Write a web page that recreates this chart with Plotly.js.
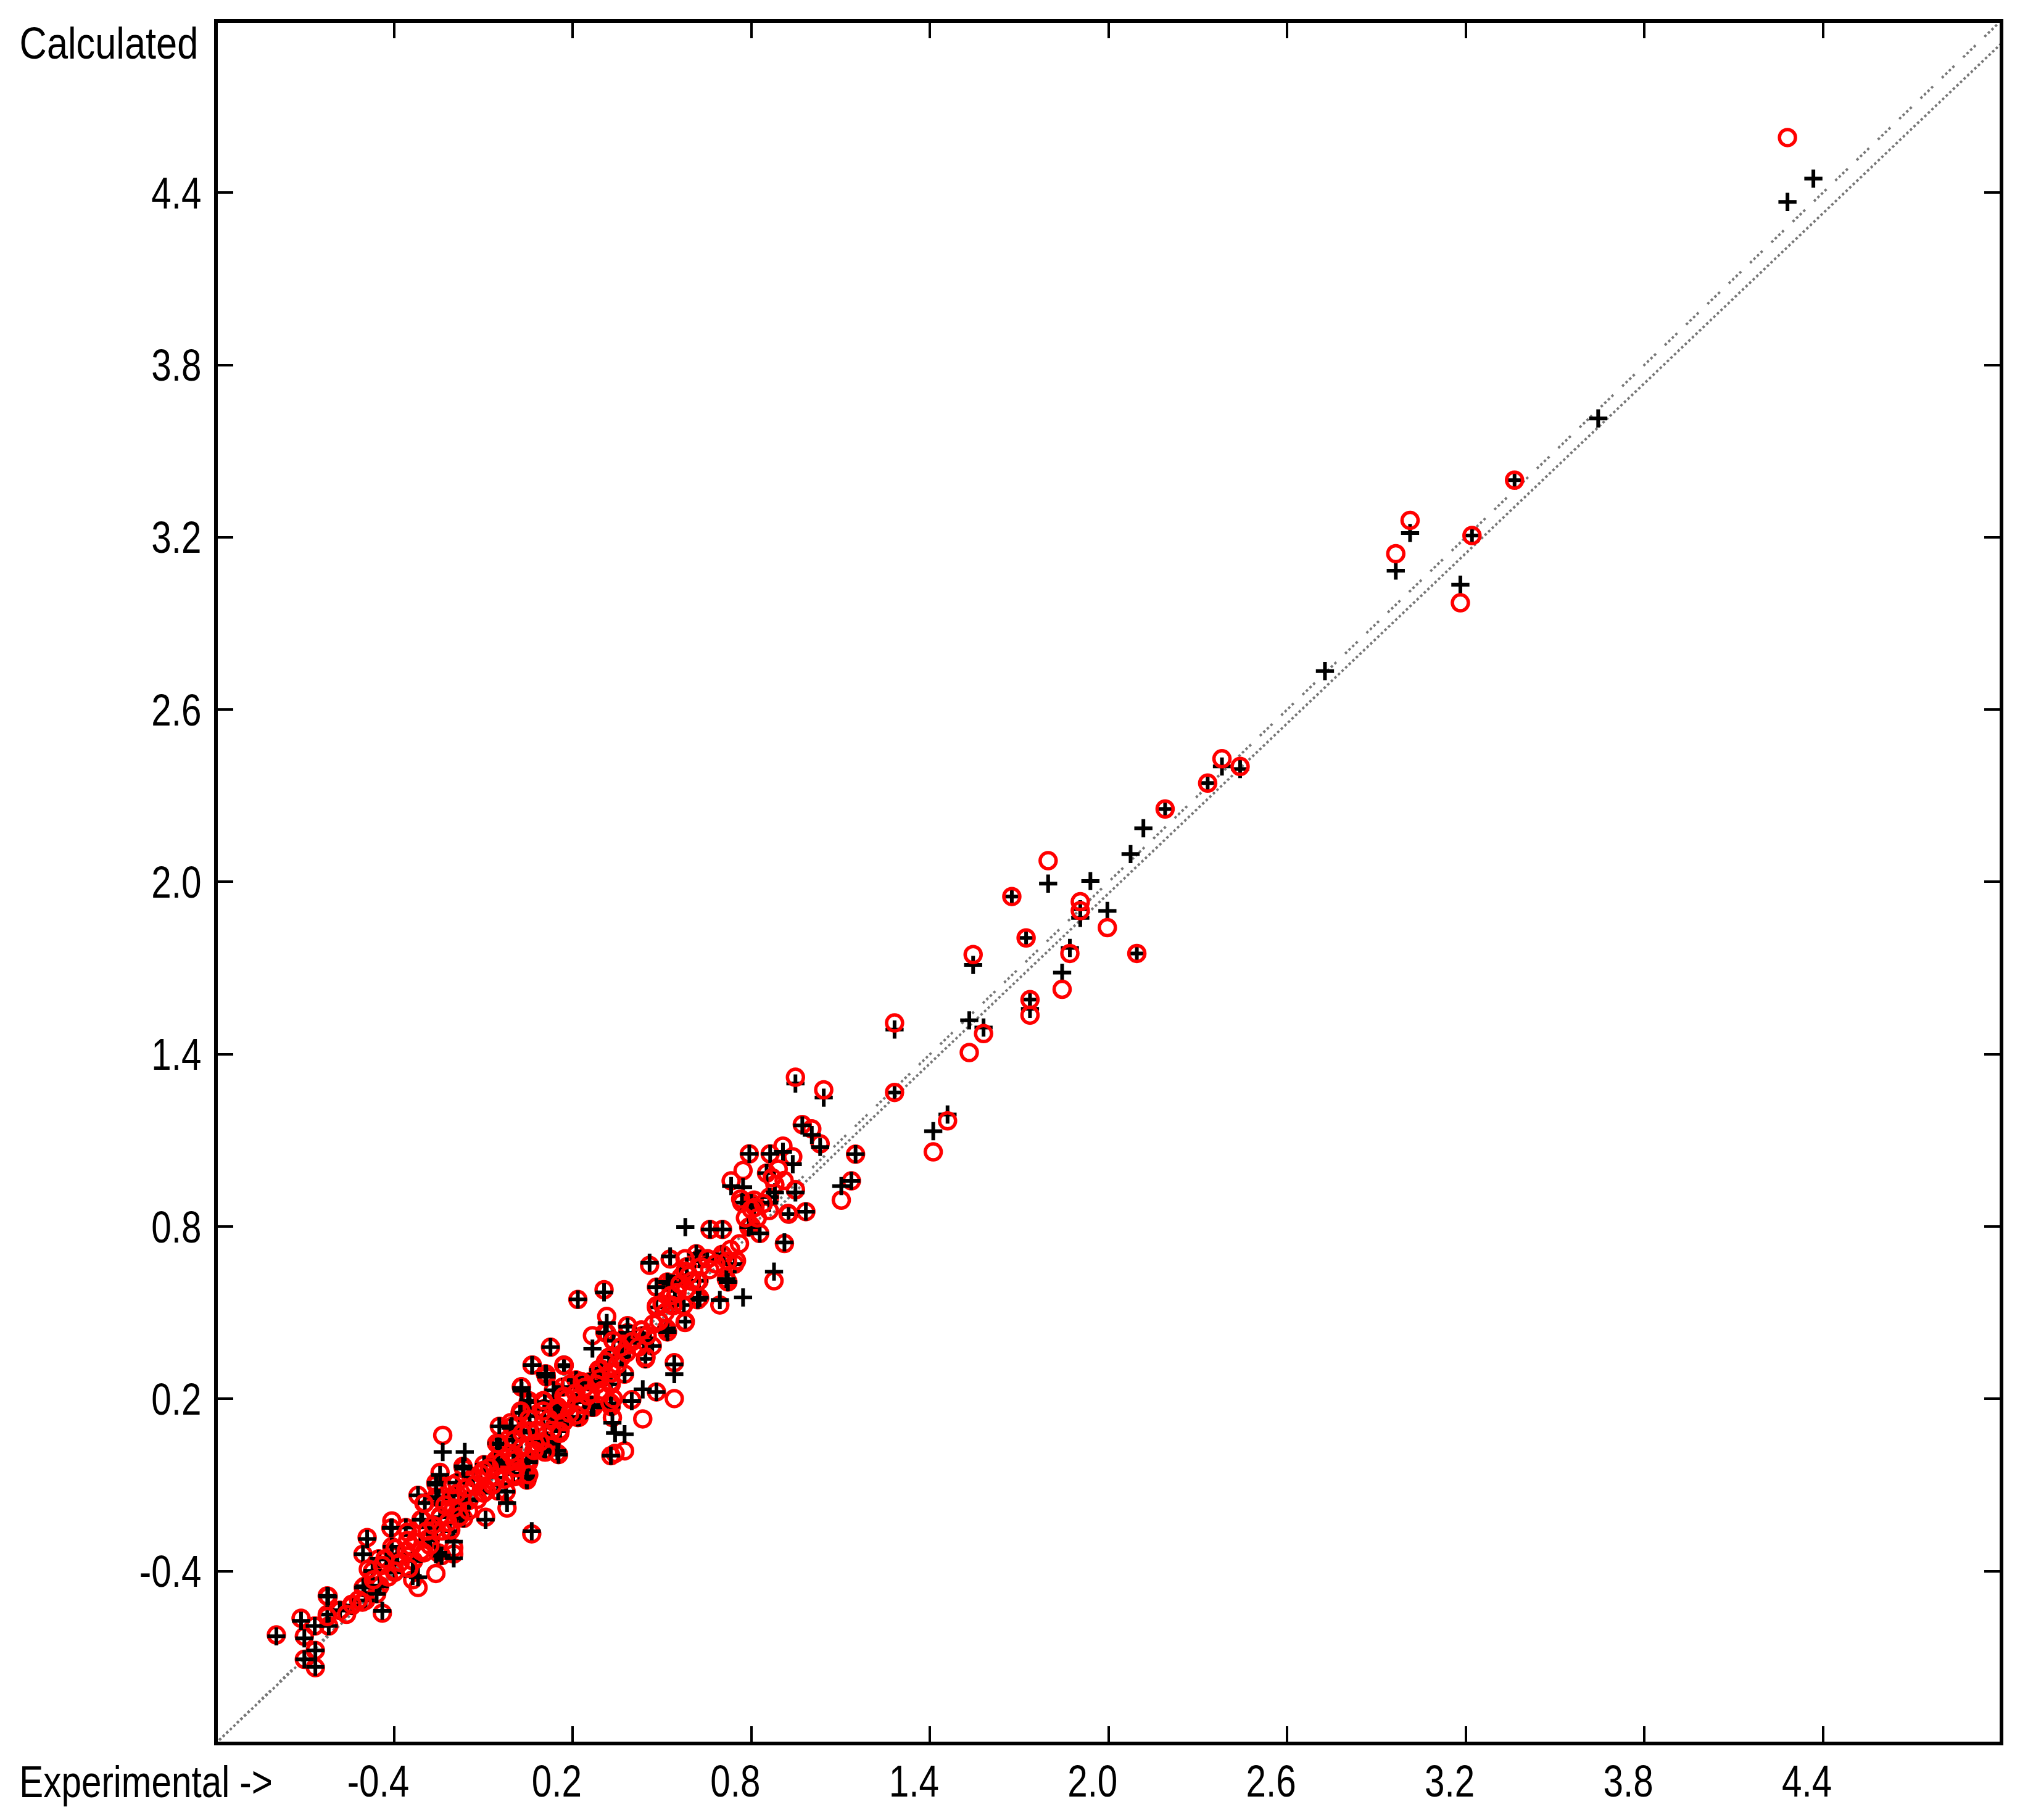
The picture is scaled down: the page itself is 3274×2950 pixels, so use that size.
<!DOCTYPE html>
<html><head><meta charset="utf-8">
<script src="https://cdn.plot.ly/plotly-3.0.1.min.js"></script>
<style>html,body{margin:0;padding:0;background:#fff}</style></head>
<body><div id="chart" style="width:3274px;height:2950px"></div>
<script>
const experimental = [4.281,4.368,3.645,3.364,3.221,3.013,2.965,3.182,2.727,2.442,2.381,2.333,2.19,2.117,2.074,1.797,1.675,1.939,1.905,1.905,1.996,1.723,2.095,1.87,1.844,1.545,1.736,1.736,1.532,1.58,1.281,1.281,1.459,1.411,0.948,1.043,
0.971,1.003,1.031,1.15,1.136,1.102,0.793,0.863,0.906,0.939,0.772,0.732,0.851,0.879,0.948,0.768,0.809,0.86,0.925,0.983,0.791,0.828,0.911,0.876,0.578,0.661,0.703,0.744,0.707,0.652,0.615,0.527,0.458,0.583,0.721,0.772,0.694,0.481,0.518,0.564,0.624,0.62,0.481,0.536,0.573,0.518,0.578,0.305,0.217,0.314,0.266,0.384,0.434,0.314,0.337,0.388,0.439,0.323,0.365,0.444,0.467,0.296,0.541,0.541,0.435,0.481,0.398,0.328,0.328,0.374,0.342,0.374,0.333,0.263,0.222,0.254,0.291,0.171,0.125,0.063,0.111,0.166,0.028,0.106,0.055,0.143,0.023,-0.009,0.055,0.157,0.102,0.217,0.268,0.148,0.102,0.046,0,-0.056,-0.051,0,0,0.046,0.111,0.213,
-0.796,-0.713,-0.667,-0.702,-0.665,-0.702,-0.665,-0.62,-0.622,-0.625,-0.582,-0.542,-0.5,-0.496,-0.449,-0.44,-0.505,-0.491,-0.472,-0.426,-0.408,-0.399,-0.389,-0.338,-0.338,-0.32,-0.26,-0.287,-0.361,-0.408,-0.2,-0.2,-0.241,-0.213,-0.306,-0.246,-0.297,-0.25,-0.19,-0.167,-0.26,-0.2,-0.149,-0.093,-0.021,0.062,-0.024,-0.056,0.046,0.004,0.05,-0.056,-0.098,-0.102,-0.135,-0.167,-0.19,-0.163,-0.237,-0.246,-0.32,-0.047,0,0.055,-0.047,0.05,0.027,0.106,0.148,0.11,0.064,0.221,0.157,0.152,0.106,0.328,0.263,0.328,0.17,0.286,0.221,0.1,0.157,0.055,-0.005];
const calcPlus = [4.368,4.449,3.614,3.399,3.206,3.215,3.084,3.035,2.734,2.393,2.402,2.344,2.254,2.187,2.097,1.994,1.949,2.003,1.905,1.875,1.899,1.805,1.751,1.77,1.684,1.711,1.59,1.558,1.518,1.493,1.486,1.267,1.19,1.132,1.298,1.249,
1.152,1.119,1.077,1.052,0.959,0.941,1.053,1.053,1.06,1.017,0.937,0.941,0.986,0.919,0.919,0.883,0.87,0.883,0.843,0.852,0.798,0.776,0.745,0.643,0.798,0.79,0.79,0.669,0.696,0.687,0.705,0.696,0.674,0.66,0.607,0.553,0.544,0.589,0.607,0.625,0.611,0.545,0.518,0.527,0.527,0.433,0.469,0.571,0.546,0.464,0.375,0.451,0.42,0.429,0.402,0.402,0.402,0.344,0.348,0.339,0.384,0.304,0.286,0.32,0.233,0.224,0.192,0.184,0.25,0.286,0.081,0.077,0.117,0.179,0.259,0.259,0.295,0.313,0.38,0.317,0.277,0.241,0.228,0.188,0.188,0.161,0.152,0.099,0.09,0.09,0.135,0.135,0.17,0.019,0.019,-0.017,-0.017,0.045,-0.026,0.036,-0.061,-0.07,0.054,0.188,
-0.627,-0.573,-0.591,-0.634,-0.676,-0.707,-0.733,-0.591,-0.488,-0.551,-0.537,-0.52,-0.453,-0.502,-0.453,-0.538,-0.341,-0.288,-0.399,-0.359,-0.315,-0.404,-0.346,-0.364,-0.417,-0.421,-0.341,-0.288,-0.248,-0.248,-0.355,-0.297,-0.346,-0.261,-0.221,-0.212,-0.163,-0.145,-0.199,-0.216,-0.092,-0.136,-0.154,-0.221,-0.163,-0.261,-0.123,-0.074,-0.083,-0.02,-0.02,-0.02,-0.029,-0.127,-0.074,-0.043,-0.092,0.015,0.015,-0.065,-0.136,0.042,0.055,0.082,0.104,0.189,0.238,0.189,0.167,0.287,0.318,0.136,0.113,0.006,0.015,0.002,0.171,0.176,0.318,0.3,0.256,0.05,0.087,0.14,0.104];
const calcCircle = [4.592,null,null,3.399,3.206,3.259,3.143,2.972,null,2.402,2.429,2.344,2.254,null,null,2.074,1.949,null,1.931,1.9,1.841,1.805,1.751,1.751,1.626,1.747,1.59,1.536,1.406,1.472,1.509,1.267,1.168,1.06,1.32,1.276,
1.155,1.14,1.088,1.052,0.959,0.892,1.053,1.053,1.08,1.043,0.995,0.959,0.986,0.946,0.928,0.883,0.892,0.856,0.843,0.852,0.798,0.776,0.741,0.611,null,0.79,0.79,0.669,0.696,0.687,0.705,0.687,0.665,0.66,0.607,null,0.527,0.589,0.607,0.625,0.611,0.545,0.518,0.527,0.527,0.433,0.469,0.58,0.546,0.487,0.42,0.455,0.42,0.429,0.402,0.402,0.402,0.344,0.348,0.339,0.384,0.304,0.326,0.201,0.13,0.224,0.197,0.184,0.25,0.286,0.01,0.019,0.135,0.179,0.259,0.259,0.295,0.317,0.38,0.317,0.277,0.241,0.241,0.188,0.188,0.161,0.152,0.117,0.09,0.09,0.135,0.135,0.17,0.01,0.019,-0.017,-0.017,0.045,-0.026,0.036,-0.061,-0.07,0.054,0.188,
-0.622,-0.564,-0.591,-0.627,-0.676,-0.707,-0.736,-0.591,-0.488,-0.551,-0.537,-0.52,-0.453,-0.502,-0.453,-0.546,-0.341,-0.283,-0.399,-0.359,-0.315,-0.404,-0.346,-0.364,-0.43,-0.457,-0.408,-0.288,-0.248,-0.225,-0.34,-0.319,-0.346,-0.261,-0.221,-0.212,-0.163,-0.145,-0.199,-0.216,-0.092,-0.136,-0.154,-0.212,-0.18,-0.27,-0.123,-0.074,-0.083,-0.02,-0.02,-0.02,-0.029,-0.127,-0.074,-0.043,-0.092,null,0.073,-0.056,-0.136,0.042,0.055,0.082,0.104,0.189,0.242,0.189,0.167,0.287,0.318,0.136,0.113,0.006,0.015,0.002,0.171,0.176,0.318,0.3,0.256,0.05,0.087,0.14,0.104];
const bandX = [-0.625,-0.583,-0.504,-0.449,-0.459,-0.473,-0.39,-0.452,-0.335,-0.279,-0.252,-0.411,-0.31,-0.259,-0.176,-0.259,-0.148,-0.259,-0.051,0.045,-0.058,-0.169,0.052,0.004,0.142,0.108,0.218,0.104,0.232,0.322,0.266,0.211,0.27,0.052,0.108,0.308,0.799,0.861,0.799,0.626,0.702,0.716,0.529,0.543,0.626,0.515,0.384,0.384,0.363,0.287,0.267,0.135,0.149,0.267,0.025,0.156,0.108,-0.044,0.128,0.052,-0.051,0.329];
const bandY = [-0.486,-0.536,-0.457,-0.45,-0.479,-0.4,-0.343,-0.357,-0.364,-0.293,-0.336,-0.25,-0.221,-0.25,-0.2,-0.142,-0.15,-0.099,-0.121,-0.078,-0.013,-0.035,-0.013,0.058,0.115,0.022,0.137,0.166,0.259,0.345,0.259,0.266,0.173,0.194,0.287,0.431,0.882,0.903,0.803,0.688,0.703,0.617,0.602,0.552,0.552,0.445,0.43,0.395,0.345,0.302,0.259,0.23,0.173,0.173,0.151,0.13,0.072,0.044,0.044,-0.021,-0.014,0.173];
const redOnlyX = [-0.625,-0.542,-0.507,-0.487,-0.397,-0.431,-0.397,-0.342,-0.3,-0.355,-0.355,-0.245,-0.21,-0.21,-0.3,-0.203,-0.1,-0.058,0.004,-0.1,0.004,-0.051,0.052,0.156,0.073,0.149,0.17,0.294,0.335,0.329,0.17,0.325,0.025,0.812,0.764,0.923,0.577,0.653,0.75,0.619,0.577,0.481,0.536,0.571,0.577,0.432,0.336,0.322,0.446,0.329,0.232,0.191,0.101,0.211,0.101,0.052,0.052,0.156,0.004,0.073,0.004,0.108,0.004,0.052,0.336,
-0.56,-0.52,-0.47,-0.44,-0.42,-0.38,-0.36,-0.35,-0.33,-0.31,-0.29,-0.28,-0.27,-0.24,-0.23,-0.22,-0.2,-0.19,-0.18,-0.16,-0.15,-0.13,-0.12,-0.11,-0.09,-0.08,-0.07,-0.04,-0.03,-0.01,0.01,0.03,0.03,0.07,0.08,0.09,0.12,0.13,0.15,0.17,0.18,0.19,0.21,0.23,0.24,0.25,0.26,0.28,0.29,0.3,0.31,0.33,0.35,0.36,0.38,0.4,0.42,0.43,0.45,0.47,0.49,0.5,0.51,0.53,0.55,0.56,0.58,0.59,0.6,0.63,0.66,0.68,0.72,0.73,0.76,0.78,0.8,0.82,0.84,0.87,0.89,0.91];
const redOnlyY = [-0.558,-0.515,-0.508,-0.393,-0.4,-0.357,-0.321,-0.314,-0.336,-0.264,-0.293,-0.207,-0.257,-0.142,-0.164,-0.099,-0.128,-0.071,-0.071,-0.049,-0.013,0.044,0.087,0.08,0.044,0.166,0.209,0.302,0.402,0.251,0.316,0.187,0.158,0.867,0.896,0.846,0.688,0.688,0.681,0.609,0.645,0.524,0.524,0.524,0.466,0.438,0.402,0.345,0.345,0.259,0.259,0.251,0.194,0.144,0.158,0.13,0.087,0.087,0.058,0.044,0.001,0.015,-0.064,-0.064,0.201,
-0.55,-0.5,-0.43,-0.38,-0.42,-0.37,-0.33,-0.39,-0.3,-0.33,-0.26,-0.31,-0.24,-0.26,-0.17,-0.23,-0.18,-0.13,-0.21,-0.11,-0.19,-0.1,-0.15,-0.06,-0.12,-0.04,-0.1,-0.02,-0.08,0.01,-0.04,0.03,0.08,0.02,0.09,0.05,0.13,0.09,0.16,0.12,0.2,0.15,0.22,0.18,0.24,0.21,0.22,0.25,0.27,0.23,0.33,0.29,0.32,0.38,0.36,0.4,0.38,0.44,0.42,0.46,0.47,0.53,0.5,0.56,0.57,0.6,0.58,0.63,0.61,0.66,0.65,0.67,0.68,0.72,0.74,0.83,0.86,0.83,0.88,0.97,1,0.96];
const fitX = [-1, 5];
const fitY = [-1, 4.92];
const identityX = [-1, 5];
const identityY = [-1, 5];
const tickValues = [-0.4,0.2,0.8,1.4,2.0,2.6,3.2,3.8,4.4];
const tickLabels = ['-0.4','0.2','0.8','1.4','2.0','2.6','3.2','3.8','4.4'];
const font = {family:'"Liberation Sans",Arial,sans-serif', size:73, color:'#000'};
const axisBase = {ticks:'inside', tickvals:tickValues, ticktext:tickLabels, ticklen:25, tickwidth:4,
  tickcolor:'#000', showline:true, linecolor:'#000', linewidth:6, mirror:'ticks', showgrid:false, zeroline:false, tickfont:font, tickangle:0, automargin:false};
const sparseCount = 36;
const redMarker = {symbol:'circle-open',size:26,color:'#ff0000',line:{color:'#ff0000',width:5.5}};
Plotly.newPlot('chart',[
 {x:fitX,y:fitY,mode:'lines',line:{color:'#777',width:4,dash:'4px,4px'},showlegend:false,hoverinfo:'skip'},
 {x:identityX,y:identityY,mode:'lines',line:{color:'#777',width:4,dash:'4px,4px,4px,4px,4px,4px,4px,20px'},showlegend:false,hoverinfo:'skip'},
 {x:experimental.slice(sparseCount).concat(bandX),y:calcCircle.slice(sparseCount).concat(bandY),mode:'markers',marker:redMarker,showlegend:false},
 {x:experimental.concat(bandX),y:calcPlus.concat(bandY),mode:'markers',marker:{symbol:'cross-thin-open',size:21,color:'#000',line:{color:'#000',width:6}},showlegend:false},
 {x:experimental.slice(0,sparseCount).concat(redOnlyX),y:calcCircle.slice(0,sparseCount).concat(redOnlyY),mode:'markers',marker:redMarker,showlegend:false}
],{
 width:3274,height:2950,paper_bgcolor:'#fff',plot_bgcolor:'#fff',showlegend:false,
 margin:{l:352.5,r:33,t:37,b:127,pad:0},
 xaxis:Object.assign({},axisBase,{range:[-0.99275,4.9938],ticklabelshift:-26,ticklabelstandoff:-5}),
 yaxis:Object.assign({},axisBase,{range:[-0.9936,4.9914],ticklabelstandoff:6}),
 annotations:[
  {text:'Calculated',xref:'paper',yref:'paper',x:-0.0611,y:0.9882,xanchor:'center',yanchor:'middle',showarrow:false,font:font},
  {text:'Experimental ->',xref:'paper',yref:'paper',x:-0.0403,y:-0.0233,xanchor:'center',yanchor:'middle',showarrow:false,font:font}
 ]
},{staticPlot:true,displayModeBar:false}).then(function(){
  document.querySelectorAll('.xtick text,.ytick text,.annotation-text').forEach(function(t){
    const squeeze = t.textContent === 'Calculated' ? 0.84 : 0.8;
    t.setAttribute('textLength', (t.getComputedTextLength()*squeeze).toFixed(1));
    t.setAttribute('lengthAdjust','spacingAndGlyphs');
  });
});
</script></body></html>
